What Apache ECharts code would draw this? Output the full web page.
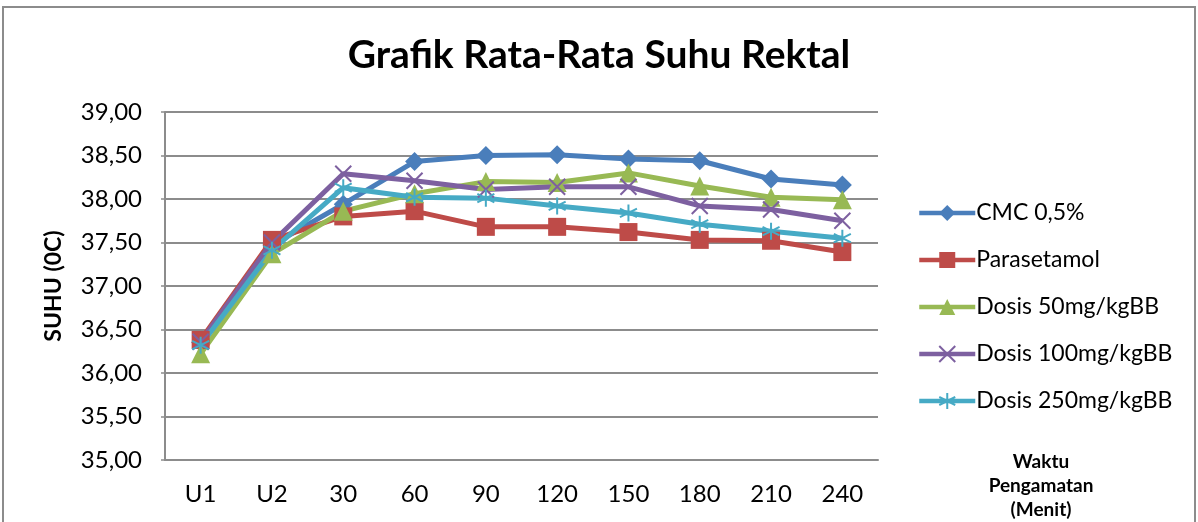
<!DOCTYPE html>
<html>
<head>
<meta charset="utf-8">
<title>Grafik Rata-Rata Suhu Rektal</title>
<script src="https://cdn.jsdelivr.net/npm/echarts@6/dist/echarts.min.js"></script>
<style>
  html, body { margin: 0; padding: 0; background: #fff; }
  #chart { width: 1198px; height: 522px; }
</style>
</head>
<body>
<div id="chart"></div>
<script>
// data
var waktu = ['U1', 'U2', '30', '60', '90', '120', '150', '180', '210', '240'];

var cmc = [36.35, 37.47, 37.94, 38.43, 38.50, 38.51, 38.46, 38.44, 38.23, 38.16];
var parasetamol = [36.38, 37.53, 37.80, 37.86, 37.68, 37.68, 37.62, 37.53, 37.52, 37.39];
var dosis50 = [36.22, 37.37, 37.86, 38.06, 38.20, 38.19, 38.30, 38.15, 38.02, 37.99];
var dosis100 = [36.36, 37.50, 38.29, 38.21, 38.11, 38.14, 38.14, 37.92, 37.88, 37.75];
var dosis250 = [36.32, 37.41, 38.13, 38.02, 38.01, 37.92, 37.84, 37.71, 37.63, 37.55];

var font = 'Lato, "Open Sans", sans-serif';

function garis(nama, data, warna, simbol, ukuran, kosong) {
  return {
    name: nama,
    type: 'line',
    data: data,
    symbol: simbol,
    symbolSize: ukuran,
    showAllSymbol: true,
    lineStyle: { color: warna, width: 5 },
    itemStyle: kosong
      ? { color: 'rgba(0,0,0,0)', borderColor: warna, borderWidth: 2 }
      : { color: warna, borderWidth: 0 },
    emphasis: { disabled: true }
  };
}

var myChart = echarts.init(document.getElementById('chart'), null, { renderer: 'canvas' });

myChart.setOption({
  animation: false,
  backgroundColor: '#fff',
  textStyle: { fontFamily: font },
  title: {
    text: 'Grafik Rata-Rata Suhu Rektal',
    left: 'center',
    top: 31,
    textStyle: { fontFamily: font, fontSize: 39, fontWeight: 'bold', color: '#000' }
  },
  graphic: [
    {
      type: 'rect',
      shape: { x: 3, y: 7, width: 1192, height: 530 },
      style: { fill: 'none', stroke: '#8c8c8c', lineWidth: 2 },
      silent: true
    },
    {
      type: 'text',
      x: 1041,
      y: 450,
      style: {
        text: 'Waktu\nPengamatan\n(Menit)',
        fontFamily: font,
        fontSize: 19,
        fontWeight: 'bold',
        lineHeight: 24,
        align: 'center',
        verticalAlign: 'top',
        fill: '#000'
      }
    }
  ],
  legend: {
    orient: 'vertical',
    left: 912,
    top: 196,
    itemWidth: 56,
    itemHeight: 20,
    itemGap: 23,
    lineStyle: { width: 4.5 },
    textStyle: { fontFamily: font, fontSize: 23, color: '#000', lineHeight: 24, padding: [0, 0, 0, -4] },
    data: ['CMC 0,5%', 'Parasetamol', 'Dosis 50mg/kgBB', 'Dosis 100mg/kgBB', 'Dosis 250mg/kgBB']
  },
  grid: { left: 165, top: 112, right: 320, bottom: 62 },
  xAxis: {
    type: 'category',
    data: waktu,
    boundaryGap: true,
    axisLine: { lineStyle: { color: '#8c8c8c', width: 2 } },
    axisTick: { show: false },
    axisLabel: { fontFamily: font, fontSize: 24, color: '#000', margin: 22 }
  },
  yAxis: {
    type: 'value',
    min: 35,
    max: 39,
    interval: 0.5,
    name: 'SUHU (0C)',
    nameLocation: 'middle',
    nameGap: 100,
    nameRotate: 90,
    nameTextStyle: { fontFamily: font, fontSize: 23, fontWeight: 'bold', color: '#000' },
    axisLine: { show: true, lineStyle: { color: '#8c8c8c', width: 2 } },
    axisTick: { show: true, length: 4, lineStyle: { color: '#8c8c8c', width: 1.5 } },
    splitLine: { lineStyle: { color: '#8c8c8c', width: 2 } },
    axisLabel: {
      fontFamily: font, fontSize: 24, color: '#000', margin: 23,
      formatter: function (v) { return v.toFixed(2).replace('.', ','); }
    }
  },
  series: [
    garis('CMC 0,5%', cmc, '#4a7ebb', 'diamond', 19, false),
    garis('Parasetamol', parasetamol, '#be4b48', 'rect', 18, false),
    garis('Dosis 50mg/kgBB', dosis50, '#98b954', 'triangle', 19, false),
    garis('Dosis 100mg/kgBB', dosis100, '#7d60a0', 'path://M0,0L10,10M10,0L0,10', 16, true),
    garis('Dosis 250mg/kgBB', dosis250, '#46aac5', 'path://M5,0L5,10M0.7,2.5L9.3,7.5M0.7,7.5L9.3,2.5', 17, true)
  ]
});
</script>
</body>
</html>
